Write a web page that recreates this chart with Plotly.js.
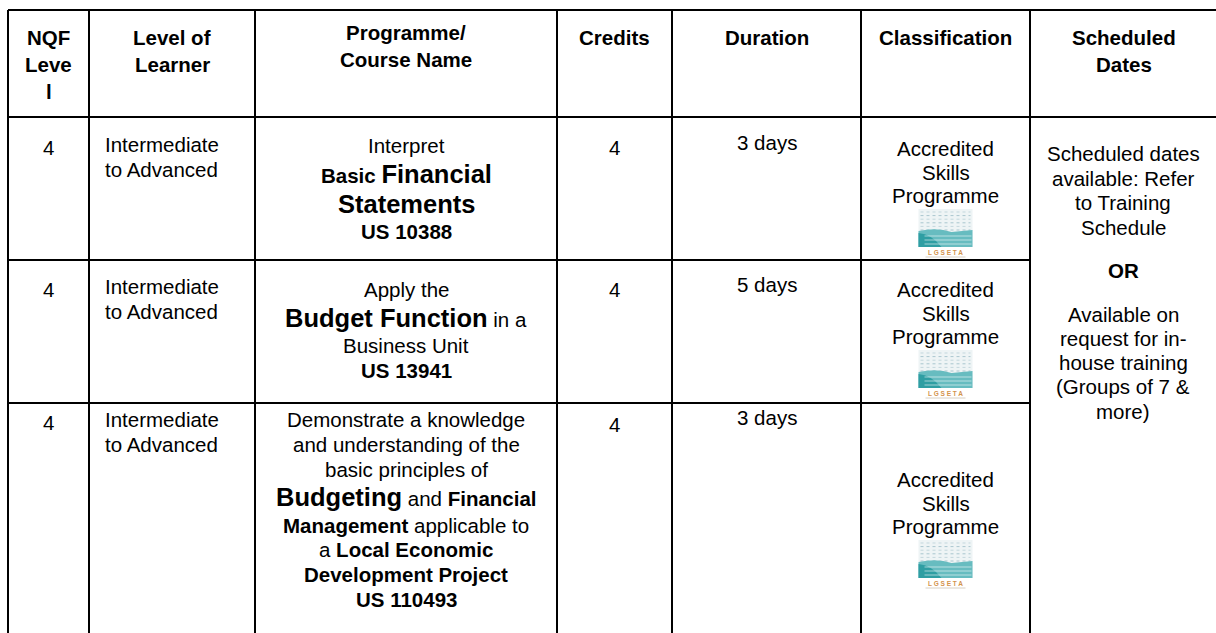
<!DOCTYPE html>
<html>
<head>
<meta charset="utf-8">
<script src="https://cdn.plot.ly/plotly-3.0.1.min.js"></script>
<style>html,body{margin:0;padding:0;background:#fff;}#chart{width:1216px;height:633px;}</style>
</head>
<body>
<div id="chart"></div>
<script>
// ---------------- DATA ----------------
// markup: *text* = bold, ^text^ = large bold
const headers = [["NQF", "Leve", "l"], ["Level of", "Learner"], ["Programme/", "Course Name"], ["Credits"], ["Duration"], ["Classification"], ["Scheduled", "Dates"]];
const nqfLevels = ["4", "4", "4"];
const learnerLevels = [["Intermediate", "to Advanced"], ["Intermediate", "to Advanced"], ["Intermediate", "to Advanced"]];
const programmeNames = [
  ["Interpret", "*Basic* ^Financial^", "^Statements^", "*US 10388*"],
  ["Apply the", "^Budget Function^ in a", "Business Unit", "*US 13941*"],
  ["Demonstrate a knowledge", "and understanding of the", "basic principles of", "^Budgeting^ and *Financial*", "*Management* applicable to", "a *Local Economic*", "*Development Project*", "*US 110493*"]
];
const credits = ["4", "4", "4"];
const durations = ["3 days", "5 days", "3 days"];
const classifications = [["Accredited", "Skills", "Programme"], ["Accredited", "Skills", "Programme"], ["Accredited", "Skills", "Programme"]];
const logoLabel = "L G S E T A";
const scheduledPart1 = ["Scheduled dates", "available: Refer", "to Training", "Schedule"];
const scheduledOr = "*OR*";
const scheduledPart2 = ["Available on", "request for in-", "house training", "(Groups of 7 &", "more)"];

// ---------------- LAYOUT ----------------
const W = 1216, H = 633;
const BODY = 20.5, BIG = 25.5;
const colEdges = [8, 89, 255, 557, 672, 861, 1030, 1218];
const rowEdges = [10, 117, 260, 403, 660];
// first-baseline offsets from row top, per row, per column [nqf, learner, prog, credits, duration, class]
const pads = [[38, 35, 36, 38, 33, 39], [37, 34, 37, 37, 32, 37], [27, 24, 24, 29, 22, 84]];
const learnerIndent = 15;

const annotations = [];
const shapes = [];

function parse(s) {
  let max = BODY;
  if (s.indexOf('^') >= 0) max = BIG;
  let html = s.replace(/\^([^^]+)\^/g, '<b><span style="font-size:' + BIG + 'px">$1</span></b>')
              .replace(/\*([^*]+)\*/g, '<b>$1</b>');
  return {html, max};
}
function addText(x, anchor, baseline, html, size, bold) {
  annotations.push({
    x: x, y: baseline - 0.3465 * size, xref: 'x', yref: 'y',
    xanchor: anchor, yanchor: 'middle', showarrow: false, borderpad: 0,
    text: bold ? '<b>' + html + '</b>' : html,
    font: {size: BODY, color: '#000', family: '"Liberation Sans", Arial, sans-serif'}
  });
}
function addLines(x, anchor, b0, lines, extra) {
  let b = b0, prev = null;
  lines.forEach((ln, i) => {
    const p = parse(ln);
    if (i > 0) b += 0.212 * prev + 0.905 * p.max + extra;
    addText(x, anchor, b, p.html, p.max, false);
    prev = p.max;
  });
  return b;
}
function colCenter(c) { return (colEdges[c] + colEdges[c + 1]) / 2; }

function line(x0, y0, x1, y1) {
  shapes.push({type: 'line', xref: 'x', yref: 'y', x0, y0, x1, y1, line: {color: '#000', width: 2}, layer: 'above'});
}
function rect(x0, y0, x1, y1, fill) {
  shapes.push({type: 'rect', xref: 'x', yref: 'y', x0, y0, x1, y1, fillcolor: fill, line: {width: 0}, layer: 'below'});
}
function addLogo(cx, top) {
  const l = cx - 27, r = cx + 27;
  rect(l, top, r, top + 38, '#eef4f5');
  // stippled upper pattern
  for (let k = 0; k < 6; k++) {
    shapes.push({type: 'line', xref: 'x', yref: 'y', x0: l + 2, x1: r - 2, y0: top + 3 + k * 3.6, y1: top + 3 + k * 3.6,
      line: {color: k % 2 ? '#a9c6cf' : '#c3d7dd', width: 1, dash: 'dot'}, layer: 'below'});
  }
  // teal lower region
  shapes.push({type: 'path', xref: 'x', yref: 'y', layer: 'below', line: {width: 0}, fillcolor: '#67bcc0',
    path: `M ${l} ${top + 38} L ${l} ${top + 22} Q ${cx - 8} ${top + 18} ${cx + 6} ${top + 23} L ${r} ${top + 21} L ${r} ${top + 38} Z`});
  shapes.push({type: 'path', xref: 'x', yref: 'y', layer: 'below', line: {width: 0}, fillcolor: '#2f9ea3',
    path: `M ${l} ${top + 38} L ${l} ${top + 24} Q ${cx - 14} ${top + 25} ${cx - 4} ${top + 38} Z`});
  for (let k = 0; k < 3; k++) {
    shapes.push({type: 'line', xref: 'x', yref: 'y', x0: l + 6, x1: r - 1, y0: top + 27 + k * 4, y1: top + 27 + k * 4,
      line: {color: 'rgba(255,255,255,0.55)', width: 1}, layer: 'below'});
  }
  annotations.push({x: cx, y: top + 43, xref: 'x', yref: 'y', xanchor: 'center', yanchor: 'middle', showarrow: false,
    borderpad: 0, text: '<b>' + logoLabel + '</b>', font: {size: 6.5, color: '#d3934c', family: '"Liberation Sans", Arial, sans-serif'}});
  shapes.push({type: 'line', xref: 'x', yref: 'y', x0: cx - 20, x1: cx + 20, y0: top + 48, y1: top + 48,
    line: {color: '#d8d0c4', width: 1}, layer: 'below'});
}

// grid
colEdges.forEach(x => line(x, rowEdges[0], x, H + 20));
line(colEdges[0], rowEdges[0], W + 5, rowEdges[0]);
line(colEdges[0], rowEdges[1], W + 5, rowEdges[1]);
line(colEdges[0], rowEdges[2], colEdges[6], rowEdges[2]);
line(colEdges[0], rowEdges[3], colEdges[6], rowEdges[3]);

// headers
headers.forEach((lines, c) => {
  const b0 = c === 2 ? 40 : 45;
  lines.forEach((t, i) => addText(colCenter(c), 'center', b0 + 27 * i, t, BODY, true));
});

// body rows
for (let r = 0; r < 3; r++) {
  const top = rowEdges[r + 1];
  const p = pads[r];
  addLines(colCenter(0), 'center', top + p[0], [nqfLevels[r]], 2);
  addLines(colEdges[1] + learnerIndent, 'left', top + p[1], learnerLevels[r], 1.5);
  addLines(colCenter(2), 'center', top + p[2], programmeNames[r], 2);
  addLines(colCenter(3), 'center', top + p[3], [credits[r]], 2);
  addLines(colCenter(4), 'center', top + p[4], [durations[r]], 2);
  const lastB = addLines(colCenter(5), 'center', top + p[5], classifications[r], 0.6);
  addLogo(colCenter(5), lastB + 6);
}

// scheduled dates (merged cell)
const sx = (colEdges[6] + 1216) / 2;
let sb = addLines(sx, 'center', rowEdges[1] + 44, scheduledPart1, 1.5);
sb = addLines(sx, 'center', sb + 43, [scheduledOr], 0);
addLines(sx, 'center', sb + 44, scheduledPart2, 1.4);

const layout = {
  width: W, height: H,
  margin: {l: 0, r: 0, t: 0, b: 0},
  paper_bgcolor: '#fff', plot_bgcolor: '#fff',
  xaxis: {range: [0, W], visible: false, fixedrange: true},
  yaxis: {range: [H, 0], visible: false, fixedrange: true},
  showlegend: false,
  font: {family: '"Liberation Sans", Arial, sans-serif', color: '#000'},
  shapes: shapes,
  annotations: annotations
};
Plotly.newPlot('chart', [], layout, {staticPlot: true, displayModeBar: false});
</script>
</body>
</html>
